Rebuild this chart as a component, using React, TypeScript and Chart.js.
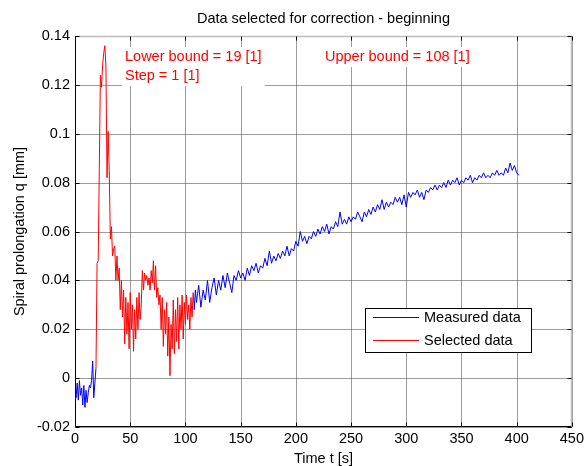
import React, { useEffect, useRef } from "react";
import { Chart, registerables } from "chart.js";

Chart.register(...registerables);

const TITLE = "Data selected for correction - beginning";
const X_LABEL = "Time t [s]";
const Y_LABEL = "Spiral prolongation q [mm]";
const X_TICKS = [0, 50, 100, 150, 200, 250, 300, 350, 400, 450];
const Y_TICKS = [-0.02, 0, 0.02, 0.04, 0.06, 0.08, 0.1, 0.12, 0.14];
const SERIES_LABELS = ["Measured data", "Selected data"];
const SERIES_COLORS = ["#0000ff", "#ff0000"];
const LOWER_BOUND = 19;
const UPPER_BOUND = 108;
const STEP = 1;

// measured values, t = 0 .. 109 s, 1 s apart
const earlyValues = [
  -0.004, -0.008, -0.002, -0.009, -0.001, -0.007, -0.004, -0.011, -0.003, -0.012,
  -0.005, -0.01, -0.006, -0.003, -0.004, -0.001, 0.007, -0.008, -0.002, 0.004,
  0.047, 0.048, 0.085, 0.124, 0.119, 0.128, 0.133, 0.136, 0.128, 0.082,
  0.101, 0.085, 0.057, 0.062, 0.05, 0.053, 0.054, 0.04, 0.05, 0.04,
  0.045, 0.028, 0.04, 0.025, 0.036, 0.014, 0.033, 0.018, 0.031, 0.012,
  0.035, 0.02, 0.03, 0.011, 0.028, 0.016, 0.033, 0.02, 0.035, 0.024,
  0.03, 0.044, 0.036, 0.043, 0.04, 0.042, 0.038, 0.041, 0.036, 0.044,
  0.039, 0.048, 0.036, 0.046, 0.033, 0.037, 0.03, 0.034, 0.02, 0.033,
  0.013, 0.028, 0.018, 0.031, 0.009, 0.025, 0.001, 0.022, 0.012, 0.032,
  0.01, 0.028, 0.015, 0.033, 0.012, 0.03, 0.02, 0.034, 0.016, 0.031,
  0.022, 0.034, 0.024, 0.03, 0.02, 0.033, 0.025, 0.035, 0.028, 0.036,
];

// measured values, t = 110 .. 402 s, 2 s apart
const LATE_START = 110;
const LATE_STEP = 2;
const lateValues = [
  0.031, 0.038, 0.029, 0.036, 0.032, 0.04, 0.031, 0.037, 0.041, 0.034,
  0.04, 0.036, 0.042, 0.037, 0.043, 0.039, 0.035, 0.042, 0.04, 0.044,
  0.041, 0.043, 0.04, 0.045, 0.042, 0.046, 0.044, 0.047, 0.043, 0.046,
  0.045, 0.049, 0.046, 0.052, 0.047, 0.05, 0.048, 0.051, 0.049, 0.052,
  0.05, 0.054, 0.05, 0.053, 0.052, 0.056, 0.054, 0.06, 0.056, 0.058,
  0.055, 0.058, 0.057, 0.06, 0.058, 0.061, 0.059, 0.062, 0.06, 0.063,
  0.059, 0.062, 0.061, 0.064, 0.062, 0.068, 0.063, 0.065, 0.063, 0.066,
  0.064, 0.066, 0.065, 0.068, 0.066, 0.064, 0.068, 0.066, 0.069, 0.067,
  0.07, 0.068, 0.071, 0.069, 0.073, 0.069, 0.072, 0.07, 0.072, 0.071,
  0.074, 0.072, 0.074, 0.071, 0.075, 0.07, 0.076, 0.074, 0.076, 0.075,
  0.077, 0.074, 0.076, 0.073, 0.077, 0.076, 0.078, 0.077, 0.079, 0.077,
  0.079, 0.078, 0.08, 0.078, 0.081, 0.079, 0.081, 0.08, 0.082, 0.079,
  0.081, 0.08, 0.082, 0.081, 0.083, 0.08, 0.082, 0.081, 0.083, 0.082,
  0.084, 0.082, 0.083, 0.082, 0.084, 0.083, 0.085, 0.083, 0.084, 0.083,
  0.086, 0.084, 0.088, 0.085, 0.087, 0.084, 0.083,
];

const FONT = "'Liberation Sans', Arial, sans-serif";
const FONT_SIZE = 14.5;

const W = 587;
const H = 466;
const PLOT_LEFT = 75;
const PLOT_RIGHT = 572;
const PLOT_TOP = 36;
const PLOT_BOTTOM = 427;

function fmtTick(v: number): string {
  return String(Number(v.toFixed(2)));
}

const matlabPlugin = {
  id: "matlabAxes",
  beforeDatasetsDraw(chart: any) {
    const { ctx, chartArea: a, scales } = chart;
    const x = scales.x;
    const y = scales.y;
    ctx.save();
    ctx.strokeStyle = "rgba(90,90,90,0.6)";
    ctx.lineWidth = 1;
    ctx.beginPath();
    X_TICKS.forEach((v) => {
      const px = Math.round(x.getPixelForValue(v)) + 0.5;
      ctx.moveTo(px, a.top);
      ctx.lineTo(px, a.bottom);
    });
    Y_TICKS.forEach((v) => {
      const py = Math.round(y.getPixelForValue(v)) + 0.5;
      ctx.moveTo(a.left, py);
      ctx.lineTo(a.right, py);
    });
    ctx.stroke();
    ctx.restore();
  },
  afterDatasetsDraw(chart: any) {
    const { ctx, chartArea: a, scales } = chart;
    const x = scales.x;
    const y = scales.y;
    const L = Math.round(a.left) + 0.5;
    const R = Math.round(a.right) - 0.5;
    const T = Math.round(a.top) + 0.5;
    const B = Math.round(a.bottom) - 0.5;
    ctx.save();
    ctx.strokeStyle = "#bdbdbd";
    ctx.lineWidth = 1.5;
    ctx.beginPath();
    ctx.moveTo(L, T);
    ctx.lineTo(R, T);
    ctx.lineTo(R, B);
    ctx.stroke();
    ctx.strokeStyle = "#000";
    ctx.lineWidth = 1;
    ctx.beginPath();
    ctx.moveTo(L, T);
    ctx.lineTo(L, B);
    ctx.lineTo(R, B);
    ctx.stroke();
    const tl = 4;
    ctx.beginPath();
    X_TICKS.forEach((v) => {
      const px = Math.round(x.getPixelForValue(v)) + 0.5;
      ctx.moveTo(px, B);
      ctx.lineTo(px, B - tl);
      ctx.moveTo(px, T);
      ctx.lineTo(px, T + tl);
    });
    Y_TICKS.forEach((v) => {
      const py = Math.round(y.getPixelForValue(v)) + 0.5;
      ctx.moveTo(L, py);
      ctx.lineTo(L + tl, py);
      ctx.moveTo(R, py);
      ctx.lineTo(R - tl, py);
    });
    ctx.stroke();

    ctx.font = `${FONT_SIZE}px ${FONT}`;
    ctx.textBaseline = "middle";
    ctx.textAlign = "left";
    const lower = `Lower bound = ${LOWER_BOUND} [1]`;
    const step = `Step = ${STEP} [1]`;
    const upper = `Upper bound = ${UPPER_BOUND} [1]`;
    const lx = 125;
    const ly1 = 57;
    const ly2 = 76;
    const ux = 325;
    const wL = Math.max(ctx.measureText(lower).width, ctx.measureText(step).width);
    const wU = ctx.measureText(upper).width;
    ctx.fillStyle = "#fff";
    ctx.fillRect(lx - 3, ly1 - 10, wL + 6, ly2 - ly1 + 20);
    ctx.fillRect(ux - 3, ly1 - 10, wU + 6, 20);
    ctx.fillStyle = "#ff0000";
    ctx.fillText(lower, lx, ly1);
    ctx.fillText(step, lx, ly2);
    ctx.fillText(upper, ux, ly1);

    const bx = 365.5;
    const by = 308.5;
    const bw = 166;
    const bh = 44;
    ctx.fillStyle = "#fff";
    ctx.fillRect(bx, by, bw, bh);
    ctx.strokeStyle = "#000";
    ctx.lineWidth = 1;
    ctx.strokeRect(bx, by, bw, bh);
    const rows = [317, 340];
    SERIES_LABELS.forEach((lab, i) => {
      ctx.strokeStyle = SERIES_COLORS[i];
      ctx.beginPath();
      ctx.moveTo(373, rows[i] + 0.5);
      ctx.lineTo(419, rows[i] + 0.5);
      ctx.stroke();
      ctx.fillStyle = "#000";
      ctx.fillText(lab, 424, rows[i] + 1);
    });

    ctx.fillStyle = "#000";
    ctx.textAlign = "center";
    const cx = (a.left + a.right) / 2;
    ctx.fillText(TITLE, cx, 19);
    ctx.fillText(X_LABEL, cx, 459);
    ctx.save();
    ctx.translate(20, (a.top + a.bottom) / 2);
    ctx.rotate(-Math.PI / 2);
    ctx.fillText(Y_LABEL, 0, 0);
    ctx.restore();
    ctx.restore();
  },
};

export default function App() {
  const ref = useRef<HTMLCanvasElement | null>(null);

  useEffect(() => {
    document.body.style.margin = "0";
    const canvas = ref.current;
    if (!canvas) return;

    const measured = [
      ...earlyValues.map((v, i) => ({ x: i, y: v })),
      ...lateValues.map((v, i) => ({ x: LATE_START + i * LATE_STEP, y: v })),
    ];
    const selected = measured.filter((p) => p.x >= LOWER_BOUND && p.x <= UPPER_BOUND);
    const hiddenUnderSelection = (c: any) =>
      c.p0.parsed.x >= LOWER_BOUND && c.p1.parsed.x <= UPPER_BOUND ? "rgba(0,0,0,0)" : undefined;

    const chart = new Chart(canvas, {
      type: "line",
      data: {
        datasets: [
          {
            label: SERIES_LABELS[0],
            data: measured,
            borderColor: SERIES_COLORS[0],
            borderWidth: 1,
            pointRadius: 0,
            tension: 0,
            fill: false,
            segment: { borderColor: hiddenUnderSelection },
          },
          {
            label: SERIES_LABELS[1],
            data: selected,
            borderColor: SERIES_COLORS[1],
            borderWidth: 1,
            pointRadius: 0,
            tension: 0,
            fill: false,
          },
        ],
      },
      options: {
        animation: false,
        responsive: false,
        devicePixelRatio: 1,
        events: [],
        layout: {
          padding: { left: 0, top: PLOT_TOP, right: W - PLOT_RIGHT, bottom: 0 },
        },
        plugins: {
          legend: { display: false },
          title: { display: false },
          tooltip: { enabled: false },
        },
        scales: {
          x: {
            type: "linear",
            min: 0,
            max: 450,
            afterBuildTicks: (s: any) => {
              s.ticks = X_TICKS.map((v) => ({ value: v }));
            },
            afterFit: (s: any) => {
              s.height = H - PLOT_BOTTOM;
            },
            grid: { display: false, drawTicks: false },
            border: { display: false },
            ticks: {
              color: "#000",
              font: { family: FONT, size: FONT_SIZE },
              padding: 3,
              maxRotation: 0,
              autoSkip: false,
              callback: (v: any) => fmtTick(Number(v)),
            },
          },
          y: {
            type: "linear",
            min: -0.02,
            max: 0.14,
            afterBuildTicks: (s: any) => {
              s.ticks = Y_TICKS.map((v) => ({ value: v }));
            },
            afterFit: (s: any) => {
              s.width = PLOT_LEFT;
            },
            grid: { display: false, drawTicks: false },
            border: { display: false },
            ticks: {
              color: "#000",
              font: { family: FONT, size: FONT_SIZE },
              padding: 5,
              autoSkip: false,
              callback: (v: any) => fmtTick(Number(v)),
            },
          },
        },
      },
      plugins: [matlabPlugin],
    });
    return () => chart.destroy();
  }, []);

  return (
    <div style={{ width: W, height: H, background: "#fff" }}>
      <canvas ref={ref} width={W} height={H} style={{ display: "block" }} />
    </div>
  );
}
